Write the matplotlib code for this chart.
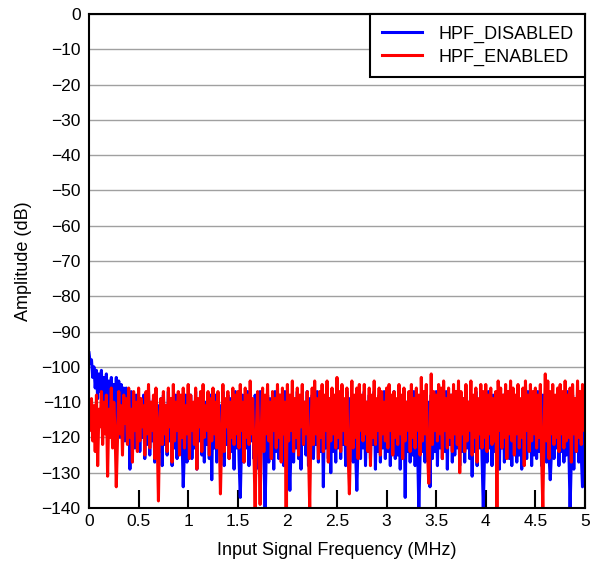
import matplotlib
matplotlib.use('Agg')
import matplotlib.pyplot as plt
import numpy as np

plt.rcParams['font.family'] = ['Liberation Sans', 'DejaVu Sans']

# Spectrum estimates (dB), one point every 0.0125 MHz
hpf_disabled = [
    -96, -99, -98, -103, -100, -106, -101, -109, -102, -107, -101, -112, -103, -110, -102, -114, -104, -116, -103, -112,
    -105, -118, -103, -115, -104, -120, -105, -117, -106, -121, -106, -119, -109, -129, -107, -118, -110, -123, -108, -120,
    -109, -124, -110, -120, -108, -126, -111, -122, -107, -125, -110, -121, -109, -127, -108, -123, -111, -124, -109, -128,
    -108, -122, -111, -125, -107, -121, -110, -128, -109, -123, -108, -126, -110, -124, -109, -120, -134, -123, -108, -127,
    -110, -122, -108, -126, -111, -123, -107, -129, -110, -121, -109, -125, -108, -127, -110, -122, -109, -126, -108, -132,
    -110, -123, -108, -127, -109, -121, -111, -125, -107, -128, -110, -122, -108, -126, -109, -124, -110, -129, -107, -123,
    -109, -126, -137, -122, -108, -127, -110, -123, -107, -128, -109, -121, -110, -126, -108, -124, -109, -129, -107, -122,
    -110, -125, -140, -123, -108, -127, -109, -122, -110, -129, -107, -124, -109, -126, -108, -123, -110, -128, -107, -125,
    -109, -124, -135, -122, -108, -127, -110, -123, -107, -126, -109, -129, -108, -122, -110, -125, -107, -128, -109, -123,
    -108, -126, -110, -122, -107, -127, -109, -124, -108, -134, -110, -123, -107, -126, -109, -130, -108, -124, -110, -127,
    -107, -123, -109, -126, -108, -122, -110, -128, -107, -125, -109, -123, -108, -127, -110, -124, -135, -122, -108, -126,
    -109, -123, -107, -128, -110, -124, -108, -126, -109, -122, -107, -129, -110, -124, -108, -127, -109, -123, -107, -126,
    -110, -124, -108, -128, -109, -123, -107, -126, -110, -125, -108, -129, -109, -122, -107, -137, -110, -124, -108, -127,
    -109, -125, -107, -128, -110, -123, -140, -126, -108, -124, -109, -127, -107, -123, -110, -134, -108, -126, -109, -124,
    -107, -128, -110, -123, -108, -126, -109, -124, -107, -129, -110, -122, -108, -127, -109, -125, -107, -123, -110, -128,
    -108, -124, -109, -127, -107, -123, -110, -126, -108, -131, -109, -124, -107, -128, -110, -123, -108, -126, -140, -125,
    -109, -127, -107, -123, -110, -128, -108, -124, -109, -126, -107, -129, -110, -123, -108, -127, -109, -124, -107, -126,
    -110, -128, -108, -123, -109, -127, -107, -125, -110, -129, -108, -124, -109, -126, -107, -123, -110, -128, -108, -125,
    -109, -126, -107, -124, -110, -128, -108, -123, -109, -127, -107, -125, -132, -124, -108, -126, -109, -123, -107, -128,
    -110, -124, -108, -127, -109, -125, -107, -123, -140, -126, -108, -129, -110, -124, -107, -127, -109, -125, -134, -126,
    -108,
]

hpf_enabled = [
    -113, -118, -109, -121, -111, -124, -108, -128, -112, -117, -107, -122, -110, -119, -108, -131, -112, -120, -106, -123,
    -110, -118, -134, -121, -107, -119, -111, -125, -108, -116, -109, -122, -106, -120, -112, -127, -107, -118, -110, -124,
    -106, -121, -109, -117, -111, -125, -107, -119, -105, -123, -110, -118, -108, -126, -106, -120, -138, -115, -109, -122,
    -107, -119, -111, -124, -106, -117, -109, -127, -105, -121, -110, -118, -107, -125, -108, -120, -106, -123, -111, -119,
    -105, -126, -108, -118, -110, -122, -106, -129, -109, -117, -107, -124, -105, -120, -111, -118, -107, -125, -109, -121,
    -106, -119, -110, -123, -107, -118, -136, -121, -105, -124, -109, -117, -107, -126, -110, -120, -106, -122, -108, -119,
    -107, -123, -105, -118, -110, -127, -106, -120, -108, -122, -104, -119, -109, -125, -140, -118, -107, -121, -139, -117,
    -106, -124, -108, -119, -105, -121, -110, -126, -107, -118, -109, -123, -105, -120, -108, -127, -106, -119, -110, -140,
    -105, -121, -108, -118, -104, -124, -109, -120, -106, -125, -108, -117, -105, -122, -110, -119, -107, -123, -140, -118,
    -106, -122, -104, -119, -109, -126, -107, -120, -105, -124, -108, -118, -104, -127, -109, -121, -106, -119, -108, -123,
    -103, -120, -107, -124, -105, -118, -109, -122, -106, -125, -136, -119, -104, -123, -108, -120, -106, -126, -105, -118,
    -108, -121, -105, -119, -110, -124, -106, -128, -108, -120, -104, -122, -109, -118, -106, -125, -107, -119, -110, -121,
    -106, -123, -105, -118, -108, -125, -107, -120, -109, -122, -105, -119, -108, -126, -106, -121, -110, -118, -107, -124,
    -105, -120, -109, -123, -106, -118, -108, -125, -103, -121, -107, -119, -105, -124, -133, -120, -102, -122, -107, -118,
    -108, -121, -105, -119, -106, -126, -104, -118, -109, -123, -106, -120, -108, -124, -105, -119, -107, -122, -104, -130,
    -107, -119, -109, -124, -105, -121, -110, -118, -104, -125, -108, -120, -106, -127, -109, -119, -105, -123, -107, -120,
    -105, -124, -108, -119, -106, -122, -109, -121, -107, -140, -104, -118, -106, -123, -108, -120, -105, -126, -107, -119,
    -104, -121, -106, -125, -108, -119, -105, -123, -109, -120, -106, -128, -104, -118, -108, -124, -105, -121, -107, -119,
    -106, -123, -108, -120, -105, -125, -140, -118, -102, -121, -104, -126, -107, -119, -105, -122, -108, -120, -106, -124,
    -105, -119, -107, -123, -104, -121, -108, -120, -106, -127, -105, -119, -109, -124, -104, -120, -107, -122, -105, -118,
    -106,
]

# frequency bins span 0..5 MHz evenly
freq_disabled = np.linspace(0, 5, len(hpf_disabled))
freq_enabled = np.linspace(0, 5, len(hpf_enabled))

x_ticks = [0, 0.5, 1, 1.5, 2, 2.5, 3, 3.5, 4, 4.5, 5]
x_tick_labels = ['0', '0.5', '1', '1.5', '2', '2.5', '3', '3.5', '4', '4.5', '5']
y_ticks = list(range(-140, 1, 10))

fig = plt.figure(figsize=(5.91, 5.65), dpi=100)
ax = fig.add_axes([0.1506, 0.1009, 0.8392, 0.8743])

ax.plot(freq_disabled, hpf_disabled, color='#0000FF', lw=2.2, label='HPF_DISABLED')
ax.plot(freq_enabled, hpf_enabled, color='#FF0000', lw=2.2, label='HPF_ENABLED')

ax.set_xlim(0, 5)
ax.set_ylim(-140, 0)
ax.set_xticks(x_ticks)
ax.set_xticklabels(x_tick_labels)
ax.set_yticks(y_ticks)

ax.yaxis.grid(True, color='#a0a0a0', lw=1.0)
ax.set_axisbelow(True)

ax.tick_params(axis='x', direction='in', length=13, width=1.5, labelsize=12.5, pad=4)
ax.tick_params(axis='y', length=0, labelsize=12.5, pad=6)
for s in ax.spines.values():
    s.set_linewidth(1.5)
    s.set_zorder(5)

ax.set_xlabel('Input Signal Frequency (MHz)', fontsize=13, labelpad=10)
ax.set_ylabel('Amplitude (dB)', fontsize=13, labelpad=7)

leg = ax.legend(loc='upper right', fontsize=13, fancybox=False, framealpha=1,
                borderaxespad=0, handlelength=2.2, handletextpad=0.9,
                borderpad=0.65, labelspacing=0.3)
leg.get_frame().set_edgecolor('black')
leg.get_frame().set_linewidth(1.5)

fig.savefig('out.png', dpi=100)
